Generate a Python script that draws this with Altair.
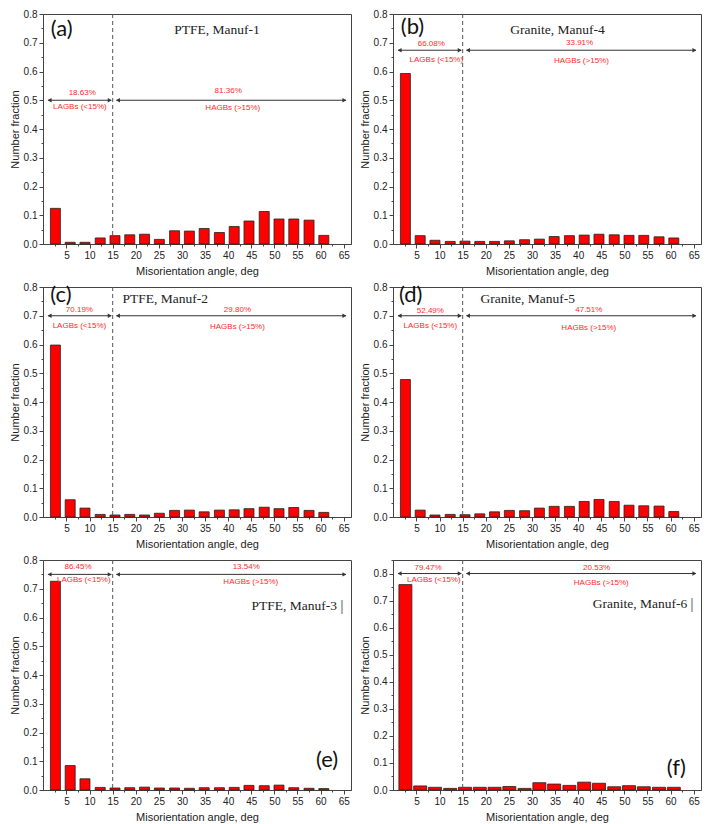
import altair as alt
import pandas as pd

# ---- data ----
angle_centers = [2.6, 5.8, 9.0, 12.3, 15.5, 18.7, 21.9, 25.1, 28.4, 31.6,
                 34.8, 38.1, 41.3, 44.5, 47.8, 51.0, 54.2, 57.5, 60.7]

frac_a = [0.124, 0.006, 0.006, 0.021, 0.029, 0.032, 0.034, 0.016, 0.046, 0.045,
          0.054, 0.040, 0.061, 0.080, 0.113, 0.087, 0.087, 0.083, 0.030]
frac_b = [0.593, 0.029, 0.013, 0.009, 0.010, 0.009, 0.009, 0.011, 0.015, 0.017,
          0.026, 0.029, 0.031, 0.034, 0.032, 0.030, 0.030, 0.025, 0.021]
frac_c = [0.598, 0.060, 0.031, 0.009, 0.007, 0.009, 0.007, 0.013, 0.023, 0.024,
          0.018, 0.024, 0.025, 0.029, 0.034, 0.029, 0.033, 0.023, 0.016]
frac_d = [0.478, 0.024, 0.007, 0.009, 0.008, 0.011, 0.018, 0.023, 0.022, 0.031,
          0.037, 0.037, 0.054, 0.061, 0.054, 0.041, 0.039, 0.038, 0.019]
frac_e = [0.726, 0.085, 0.039, 0.009, 0.007, 0.008, 0.010, 0.007, 0.007, 0.006,
          0.008, 0.008, 0.009, 0.016, 0.015, 0.017, 0.008, 0.006, 0.005]
frac_f = [0.759, 0.015, 0.010, 0.006, 0.010, 0.010, 0.010, 0.013, 0.006, 0.027,
          0.022, 0.017, 0.029, 0.025, 0.012, 0.016, 0.012, 0.010, 0.010]

panel_letters = ["(a)", "(b)", "(c)", "(d)", "(e)", "(f)"]
sample_names = ["PTFE, Manuf-1", "Granite, Manuf-4", "PTFE, Manuf-2",
                "Granite, Manuf-5", "PTFE, Manuf-3", "Granite, Manuf-6"]
lagb_pct = ["18.63%", "66.08%", "70.19%", "52.49%", "86.45%", "79.47%"]
hagb_pct = ["81.36%", "33.91%", "29.80%", "47.51%", "13.54%", "20.53%"]
y_max = [0.8, 0.8, 0.8, 0.8, 0.8, 0.85]
arrow_level = [0.5, 0.674, 0.7, 0.7, 0.75, 0.8]
boundary_angle = 15

# annotation placement (data units) and styling
ann = [
    dict(lp_x=8.4, ll_x=7.9, hp_x=40.0, hl_x=41.0, dys=(-7, -9, 7, 8),
         t_x=37.6, t_y=0.746, l_x=1.6, l_y=0.748, l_align="left", bar=10, bar_mark=False),
    dict(lp_x=8.2, ll_x=9.3, hp_x=40.3, hl_x=40.7, dys=(-6, -7, 10, 11),
         t_x=35.5, t_y=0.746, l_x=1.6, l_y=0.755, l_align="left", bar=10, bar_mark=False),
    dict(lp_x=7.8, ll_x=7.8, hp_x=42.0, hl_x=42.0, dys=(-6, -6, 10, 11),
         t_x=26.4, t_y=0.759, l_x=1.5, l_y=0.772, l_align="left", bar=10, bar_mark=False),
    dict(lp_x=8.0, ll_x=8.0, hp_x=42.3, hl_x=42.3, dys=(-5, -6, 10, 12),
         t_x=29.1, t_y=0.759, l_x=1.2, l_y=0.772, l_align="left", bar=10, bar_mark=False),
    dict(lp_x=7.5, ll_x=8.75, hp_x=43.9, hl_x=44.9, dys=(-7, -7, 6, 8),
         t_x=54.3, t_y=0.641, l_x=63.8, l_y=0.103, l_align="right", bar=10, bar_mark=True),
    dict(lp_x=7.5, ll_x=8.75, hp_x=44.0, hl_x=45.0, dys=(-6, -6, 6, 9),
         t_x=53.4, t_y=0.687, l_x=63.3, l_y=0.081, l_align="right", bar=13, bar_mark=True),
]

all_fracs = [frac_a, frac_b, frac_c, frac_d, frac_e, frac_f]

X_DOMAIN = [1, 65.5]
W, H = 308, 230
RED = "#ff2a2a"
INK = "#333333"

x_ticks = [2.5 * i for i in range(1, 27)]


def make_panel(i):
    ymax = y_max[i]
    a = ann[i]
    y_ticks = [round(0.05 * k, 2) for k in range(0, int(round(ymax / 0.05)) + 1)]
    xs = alt.Scale(domain=X_DOMAIN, nice=False, zero=False)
    ys = alt.Scale(domain=[0, ymax], nice=False)
    x_axis = alt.Axis(
        values=x_ticks,
        labelExpr="datum.value % 5 == 0 ? datum.label : ''",
        tickSize={"condition": {"test": "datum.value % 5 == 0", "value": 4}, "value": 2},
        grid=False,
    )
    y_axis = alt.Axis(
        values=y_ticks,
        labelExpr="abs(datum.value*10 - round(datum.value*10)) < 0.001 ? format(datum.value, '.1f') : ''",
        tickSize={"condition": {"test": "abs(datum.value*10 - round(datum.value*10)) < 0.001", "value": 4}, "value": 2},
        grid=False,
    )
    X = alt.X("angle:Q", scale=xs, axis=x_axis, title="Misorientation angle, deg")
    Y = alt.Y("frac:Q", scale=ys, axis=y_axis, title="Number fraction")

    bars_df = pd.DataFrame({"angle": angle_centers, "frac": all_fracs[i]})
    bars = alt.Chart(bars_df).mark_bar(
        fill="#ff0000", stroke="#222222", strokeWidth=0.8, size=a["bar"]
    ).encode(x=X, y=Y)

    dashed = alt.Chart(pd.DataFrame({"angle": [boundary_angle]})).mark_rule(
        strokeDash=[4, 3], color="#555555", strokeWidth=1
    ).encode(x=X)

    lvl = arrow_level[i]
    seg_df = pd.DataFrame({
        "angle": [X_DOMAIN[0], boundary_angle + 0.8],
        "angle2": [boundary_angle - 0.3, X_DOMAIN[1]],
        "frac": [lvl, lvl],
    })
    segs = alt.Chart(seg_df).mark_rule(color=INK, strokeWidth=1).encode(
        x=X, x2="angle2:Q", y=Y
    )
    head_df = pd.DataFrame({
        "angle": [X_DOMAIN[0] + 0.35, boundary_angle - 0.65, boundary_angle + 1.15, X_DOMAIN[1] - 0.35],
        "frac": [lvl] * 4,
        "shape": ["triangle-left", "triangle-right", "triangle-left", "triangle-right"],
    })
    heads = alt.Chart(head_df).mark_point(
        filled=True, size=20, color=INK, opacity=1
    ).encode(x=X, y=Y, shape=alt.Shape("shape:N", scale=None, legend=None))

    d1, d2, d3, d4 = a["dys"]

    def red(x, txt, dy):
        df = pd.DataFrame({"angle": [x], "frac": [lvl], "t": [txt]})
        return alt.Chart(df).mark_text(
            font="Liberation Sans", fontSize=8, color=RED, dy=dy, align="center", baseline="middle"
        ).encode(x=X, y=Y, text="t:N")

    t1 = red(a["lp_x"], lagb_pct[i], d1)
    t2 = red(a["hp_x"], hagb_pct[i], d2)
    t3 = red(a["ll_x"], "LAGBs (<15%)", d3)
    t4 = red(a["hl_x"], "HAGBs (>15%)", d4)

    title_df = pd.DataFrame({"angle": [a["t_x"]], "frac": [a["t_y"]], "t": [sample_names[i]]})
    title = alt.Chart(title_df).mark_text(
        font="Liberation Serif", fontSize=13.5, color="#222222", align="center", baseline="middle"
    ).encode(x=X, y=Y, text="t:N")

    lab_df = pd.DataFrame({"angle": [a["l_x"]], "frac": [a["l_y"]], "t": [panel_letters[i]]})
    lab = alt.Chart(lab_df).mark_text(
        font="Lato", fontSize=22, color="#111111", align=a["l_align"], baseline="middle"
    ).encode(x=X, y=Y, text="t:N")

    layers = [bars, dashed, segs, heads, t1, t2, t3, t4, title, lab]
    if a["bar_mark"]:
        bar_df = pd.DataFrame({"angle": [64.6], "frac": [a["t_y"]], "t": ["|"]})
        layers.append(alt.Chart(bar_df).mark_text(
            font="Liberation Sans", fontSize=15, color="#888888", align="center", baseline="middle"
        ).encode(x=X, y=Y, text="t:N"))

    return alt.layer(*layers).properties(width=W, height=H)


rows = []
for r in range(3):
    rows.append(alt.hconcat(make_panel(2 * r), make_panel(2 * r + 1), spacing=6))

chart = alt.vconcat(*rows, spacing=4).properties(padding=0).configure_view(
    stroke="#444444", strokeWidth=1
).configure_axis(
    domainColor="#444444", tickColor="#444444",
    labelFont="Liberation Sans", labelFontSize=10, labelColor="#222222",
    titleFont="Liberation Sans", titleFontSize=11, titleColor="#222222",
    titleFontWeight="normal", labelPadding=2,
).configure_axisX(titlePadding=5).configure_axisY(titlePadding=3)

chart.save("out.html", embed_options={"renderer": "svg", "actions": False})
